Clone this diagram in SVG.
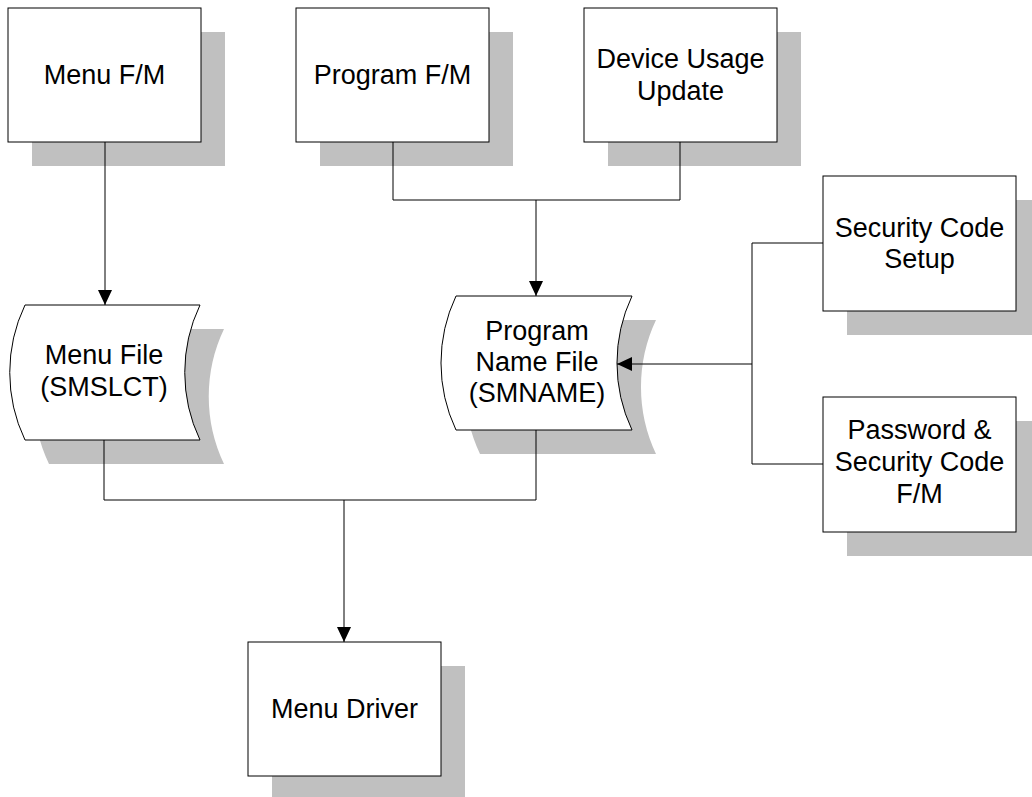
<svg xmlns="http://www.w3.org/2000/svg" width="1032" height="797" viewBox="0 0 1032 797">
<style>
.sh{fill:#c0c0c0;stroke:none}
.bx{fill:#fff;stroke:#000;stroke-width:1}
.t{font-family:"Liberation Sans",Arial,sans-serif;font-size:27px;fill:#000;text-anchor:middle}
.ln{fill:none;stroke:#000;stroke-width:1}
</style>
<defs>
<marker id="ah" markerWidth="15" markerHeight="14" viewBox="0 0 15 14" refX="15" refY="7" orient="auto" markerUnits="userSpaceOnUse">
<path d="M0,0 L15,7 L0,14 Z" fill="#000"/>
</marker>
</defs>
<rect width="1032" height="797" fill="#fff"/>
<g id="menu-fm">
<rect class="sh" x="32" y="32" width="193" height="134"/>
<rect class="bx" x="8" y="8" width="193" height="134"/>
<text class="t" x="104.5" y="84">Menu F/M</text>
</g>
<g id="program-fm">
<rect class="sh" x="320" y="32" width="193" height="134"/>
<rect class="bx" x="296" y="8" width="193" height="134"/>
<text class="t" x="392.5" y="84">Program F/M</text>
</g>
<g id="device-usage">
<rect class="sh" x="608" y="32" width="193" height="134"/>
<rect class="bx" x="584" y="8" width="193" height="134"/>
<text class="t" x="680.5" y="68">Device Usage</text>
<text class="t" x="680.5" y="100">Update</text>
</g>
<g id="security-setup">
<rect class="sh" x="847" y="200" width="193" height="135"/>
<rect class="bx" x="823" y="176" width="193" height="135"/>
<text class="t" x="919.5" y="237">Security Code</text>
<text class="t" x="919.5" y="268">Setup</text>
</g>
<g id="password-fm">
<rect class="sh" x="847" y="421" width="193" height="135"/>
<rect class="bx" x="823" y="397" width="193" height="135"/>
<text class="t" x="919.5" y="439">Password &amp;</text>
<text class="t" x="919.5" y="471">Security Code</text>
<text class="t" x="919.5" y="503">F/M</text>
</g>
<g id="menu-file">
<path class="sh" transform="translate(24,24)" d="M25,305 L200,305 A157,157 0 0 0 200,440 L25,440 A157,157 0 0 1 25,305 Z"/>
<path class="bx" d="M25,305 L200,305 A157,157 0 0 0 200,440 L25,440 A157,157 0 0 1 25,305 Z"/>
<text class="t" x="104" y="364">Menu File</text>
<text class="t" x="104" y="396">(SMSLCT)</text>
</g>
<g id="program-name-file">
<path class="sh" transform="translate(24,24)" d="M456,296 L632,296 A157,157 0 0 0 632,430 L456,430 A157,157 0 0 1 456,296 Z"/>
<path class="bx" d="M456,296 L632,296 A157,157 0 0 0 632,430 L456,430 A157,157 0 0 1 456,296 Z"/>
<text class="t" x="537" y="340">Program</text>
<text class="t" x="537" y="371">Name File</text>
<text class="t" x="537" y="402">(SMNAME)</text>
</g>
<g id="menu-driver">
<rect class="sh" x="272" y="666" width="193" height="134"/>
<rect class="bx" x="248" y="642" width="193" height="134"/>
<text class="t" x="344.5" y="718">Menu Driver</text>
</g>
<g id="connectors">
<path class="ln" d="M105,142 L105,305" marker-end="url(#ah)"/>
<path class="ln" d="M393,142 L393,200 L680,200 L680,142"/>
<path class="ln" d="M536,200 L536,296" marker-end="url(#ah)"/>
<path class="ln" d="M823,243 L752,243 L752,464 L823,464"/>
<path class="ln" d="M752,364 L617,364" marker-end="url(#ah)"/>
<path class="ln" d="M104,440 L104,500 L536,500 L536,430"/>
<path class="ln" d="M344,500 L344,642" marker-end="url(#ah)"/>
</g>
</svg>
